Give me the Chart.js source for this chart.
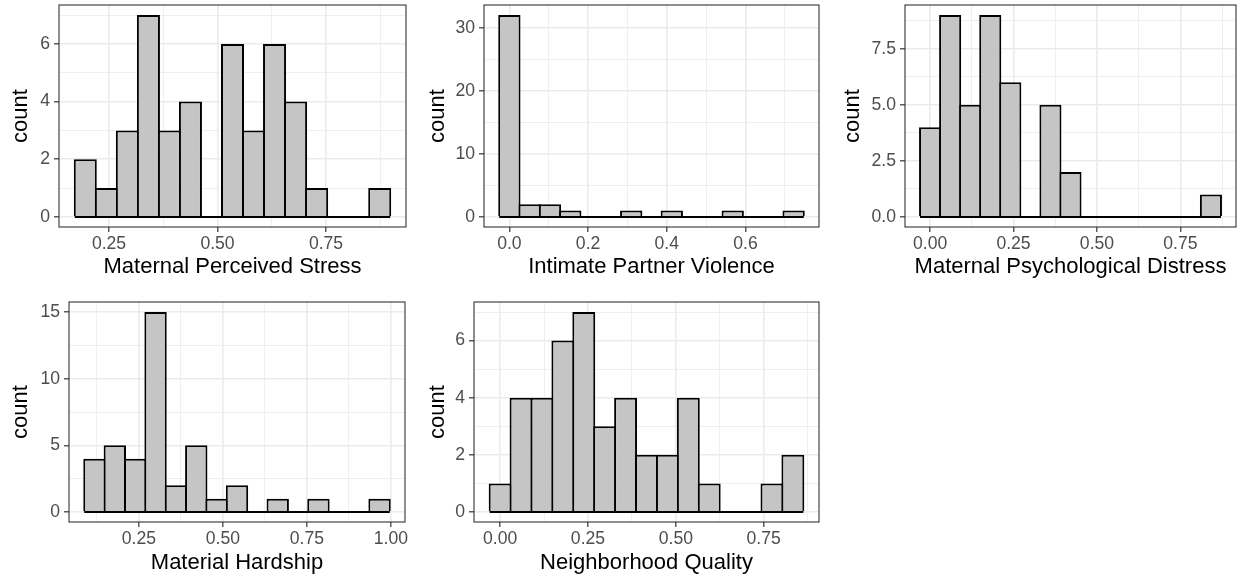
<!DOCTYPE html>
<html>
<head>
<meta charset="utf-8">
<script src="https://cdn.jsdelivr.net/npm/chart.js@4.4.1/dist/chart.umd.min.js"></script>
<style>
  html, body { margin: 0; padding: 0; background: #ffffff; }
  #wrap { position: relative; width: 1244px; height: 581px; overflow: hidden; background: #ffffff; }
  #wrap canvas { position: absolute; }
</style>
</head>
<body>
<div id="wrap">
  <canvas id="stress"></canvas>
  <canvas id="ipv"></canvas>
  <canvas id="distress"></canvas>
  <canvas id="hardship"></canvas>
  <canvas id="neighborhood"></canvas>
</div>
<script>
// ---- Histogram data: bin midpoints and counts (15 bins per variable) ----
const stressMids   = [0.1953, 0.2438, 0.2922, 0.3407, 0.3891, 0.4376, 0.4861, 0.5345, 0.5830, 0.6314, 0.6799, 0.7284, 0.7768, 0.8253, 0.8737];
const stressCounts = [2, 1, 3, 7, 3, 4, 0, 6, 3, 6, 4, 1, 0, 0, 1];
const stressXTicks = ['0.25', '0.50', '0.75'];
const stressYTicks = ['0', '2', '4', '6'];

const ipvMids   = [0, 0.0516, 0.1032, 0.1548, 0.2064, 0.2580, 0.3096, 0.3612, 0.4128, 0.4644, 0.5160, 0.5676, 0.6192, 0.6708, 0.7224];
const ipvCounts = [32, 2, 2, 1, 0, 0, 1, 0, 1, 0, 0, 1, 0, 0, 1];
const ipvXTicks = ['0.0', '0.2', '0.4', '0.6'];
const ipvYTicks = ['0', '10', '20', '30'];

const distressMids   = [0, 0.0601, 0.1202, 0.1803, 0.2404, 0.3005, 0.3606, 0.4207, 0.4808, 0.5409, 0.6010, 0.6611, 0.7212, 0.7813, 0.8414];
const distressCounts = [4, 9, 5, 9, 6, 0, 5, 2, 0, 0, 0, 0, 0, 0, 1];
const distressXTicks = ['0.00', '0.25', '0.50', '0.75'];
const distressYTicks = ['0.0', '2.5', '5.0', '7.5'];

const hardshipMids   = [0.1177, 0.1783, 0.2389, 0.2995, 0.3601, 0.4207, 0.4813, 0.5419, 0.6025, 0.6631, 0.7237, 0.7843, 0.8449, 0.9055, 0.9661];
const hardshipCounts = [4, 5, 4, 15, 2, 5, 1, 2, 0, 1, 0, 1, 0, 0, 1];
const hardshipXTicks = ['0.25', '0.50', '0.75', '1.00'];
const hardshipYTicks = ['0', '5', '10', '15'];

const neighborhoodMids   = [0, 0.0595, 0.1190, 0.1785, 0.2380, 0.2975, 0.3570, 0.4165, 0.4760, 0.5355, 0.5950, 0.6545, 0.7140, 0.7735, 0.8330];
const neighborhoodCounts = [1, 4, 4, 6, 7, 3, 4, 2, 2, 4, 1, 0, 0, 1, 2];
const neighborhoodXTicks = ['0.00', '0.25', '0.50', '0.75'];
const neighborhoodYTicks = ['0', '2', '4', '6'];

// ---- Page layout: canvas box [left, top, width, height], plot rect [l, t, r, b],
//      centre of the y title (x) and of the x title (y) ----
const panels = [
  { id: 'stress',       title: 'Maternal Perceived Stress',       mids: stressMids,       counts: stressCounts,       xTicks: stressXTicks,       yTicks: stressYTicks,
    canvas: [0, 0, 414, 290],   plot: [59, 5, 406, 227],    yTitleX: 21,  xTitleY: 267 },
  { id: 'ipv',          title: 'Intimate Partner Violence',       mids: ipvMids,          counts: ipvCounts,          xTicks: ipvXTicks,          yTicks: ipvYTicks,
    canvas: [417, 0, 410, 290], plot: [484, 5, 819, 227],   yTitleX: 438, xTitleY: 267 },
  { id: 'distress',     title: 'Maternal Psychological Distress', mids: distressMids,     counts: distressCounts,     xTicks: distressXTicks,     yTicks: distressYTicks,
    canvas: [832, 0, 412, 290], plot: [905, 5, 1236, 227],  yTitleX: 853, xTitleY: 267 },
  { id: 'hardship',     title: 'Material Hardship',               mids: hardshipMids,     counts: hardshipCounts,     xTicks: hardshipXTicks,     yTicks: hardshipYTicks,
    canvas: [0, 290, 414, 291], plot: [69, 302, 405, 522],  yTitleX: 21,  xTitleY: 563 },
  { id: 'neighborhood', title: 'Neighborhood Quality',            mids: neighborhoodMids, counts: neighborhoodCounts, xTicks: neighborhoodXTicks, yTicks: neighborhoodYTicks,
    canvas: [417, 290, 410, 291], plot: [474, 302, 819, 522], yTitleX: 438, xTitleY: 563 }
];

// ---- Styling (theme_bw look) ----
const FONT = "'Liberation Sans', Arial, Helvetica, sans-serif";
const TITLE_SIZE = 22;
const TICK_SIZE = 17.6;
const LINE_H = 1.2;
const GRID = '#EBEBEB';
const BAR_FILL = '#C5C5C5';
const BAR_EDGE = '#000000';
const BAR_EDGE_W = 2;
const TICK_LEN = 5;

Chart.defaults.font.family = FONT;
Chart.defaults.animation = false;

// Outline round the plotting panel, drawn above everything else
const panelBorder = {
  id: 'panelBorder',
  afterDraw(chart) {
    const { ctx, chartArea: a } = chart;
    ctx.save();
    ctx.strokeStyle = '#333333';
    ctx.lineWidth = 1.1;
    ctx.strokeRect(a.left, a.top, a.right - a.left, a.bottom - a.top);
    ctx.restore();
  }
};

// Major ticks from the labels, minor ticks half-way between (and one step beyond)
function buildTickList(labels, lo, hi) {
  const major = labels.map(Number);
  const step = major[1] - major[0];
  const list = [];
  const start = major[0] - step;
  const end = major[major.length - 1] + step;
  for (let i = 0; start + i * step / 2 <= end + 1e-9; i++) {
    const v = +(start + i * step / 2).toFixed(6);
    if (v >= lo - 1e-9 && v <= hi + 1e-9) {
      const k = major.findIndex(m => Math.abs(m - v) < 1e-6);
      list.push({ value: v, label: k >= 0 ? labels[k] : '', major: k >= 0 });
    }
  }
  return list;
}

function axisOptions(list, lo, hi, fixSize, tickPad) {
  const lookup = new Map(list.map(t => [t.value, t]));
  const find = v => lookup.get(+(+v).toFixed(6));
  const isMajor = ctx => !!(ctx.tick && find(ctx.tick.value) && find(ctx.tick.value).major);
  return {
    type: 'linear',
    min: lo,
    max: hi,
    offset: false,
    afterBuildTicks(scale) {
      scale.ticks = list.map(t => ({ value: t.value }));
    },
    afterFit: fixSize,
    border: { display: false },
    grid: {
      offset: false,
      drawTicks: true,
      tickLength: TICK_LEN,
      color: GRID,
      lineWidth: ctx => isMajor(ctx) ? 1.6 : 0.8,
      tickColor: ctx => isMajor(ctx) ? '#333333' : 'rgba(0,0,0,0)',
      tickWidth: 1.2
    },
    ticks: {
      autoSkip: false,
      maxRotation: 0,
      minRotation: 0,
      padding: tickPad,
      color: '#4D4D4D',
      font: { size: TICK_SIZE, lineHeight: LINE_H },
      callback(value) {
        const t = find(value);
        return t ? t.label : '';
      }
    }
  };
}

function drawHistogram(p) {
  const [cl, ct, cw, ch] = p.canvas;
  const [l, t, r, b] = p.plot;
  const el = document.getElementById(p.id);
  el.width = cw; el.height = ch;
  el.style.left = cl + 'px'; el.style.top = ct + 'px';
  el.style.width = cw + 'px'; el.style.height = ch + 'px';

  const n = p.mids.length;
  const binW = (p.mids[n - 1] - p.mids[0]) / (n - 1);
  const xLeft = p.mids[0] - binW / 2;
  const xRight = p.mids[n - 1] + binW / 2;
  // 5% expansion on both axes, like ggplot's default continuous scales
  const xPad = (xRight - xLeft) * 0.05;
  const xMin = xLeft - xPad, xMax = xRight + xPad;
  const yTop = Math.max(...p.counts);
  const yMin = -0.05 * yTop, yMax = 1.05 * yTop;

  // bars overlap by one outline width so shared edges stay single-width
  const binPx = binW / (xMax - xMin) * (r - l);
  const barPct = (binPx + BAR_EDGE_W) / binPx;

  const yWidth = l - cl;
  const xHeight = (ct + ch) - b;
  const half = TITLE_SIZE * LINE_H / 2;

  const xAxis = axisOptions(buildTickList(p.xTicks, xMin, xMax), xMin, xMax, scale => {
    scale.height = xHeight; scale.paddingLeft = 0; scale.paddingRight = 0;
  }, 2);
  xAxis.title = {
    display: true, text: p.title, color: '#000000',
    font: { size: TITLE_SIZE, lineHeight: LINE_H },
    padding: { top: 0, bottom: (ct + ch) - p.xTitleY - half }
  };
  const yAxis = axisOptions(buildTickList(p.yTicks, yMin, yMax), yMin, yMax, scale => {
    scale.width = yWidth; scale.paddingTop = 0; scale.paddingBottom = 0;
  }, 4);
  yAxis.title = {
    display: true, text: 'count', color: '#000000',
    font: { size: TITLE_SIZE, lineHeight: LINE_H },
    padding: { top: p.yTitleX - cl - half, bottom: 0 }
  };

  new Chart(el, {
    type: 'bar',
    data: {
      datasets: [
        {
          type: 'bar',
          order: 2,
          data: p.mids.map((m, i) => ({ x: m, y: p.counts[i] })),
          backgroundColor: BAR_FILL,
          borderColor: BAR_EDGE,
          borderWidth: BAR_EDGE_W,
          borderSkipped: 'start',
          barPercentage: barPct,
          categoryPercentage: 1,
          inflateAmount: 0
        },
        {
          // bin outlines along the baseline, including the empty bins
          type: 'line',
          order: 1,
          data: [{ x: xLeft, y: 0 }, { x: xRight, y: 0 }],
          borderColor: BAR_EDGE,
          borderWidth: BAR_EDGE_W,
          pointRadius: 0,
          fill: false
        }
      ]
    },
    options: {
      responsive: false,
      maintainAspectRatio: false,
      animation: false,
      layout: { padding: { left: 0, top: t - ct, right: (cl + cw) - r, bottom: 0 } },
      plugins: { legend: { display: false }, tooltip: { enabled: false } },
      scales: { x: xAxis, y: yAxis }
    },
    plugins: [panelBorder]
  });
}

panels.forEach(drawHistogram);
</script>
</body>
</html>
